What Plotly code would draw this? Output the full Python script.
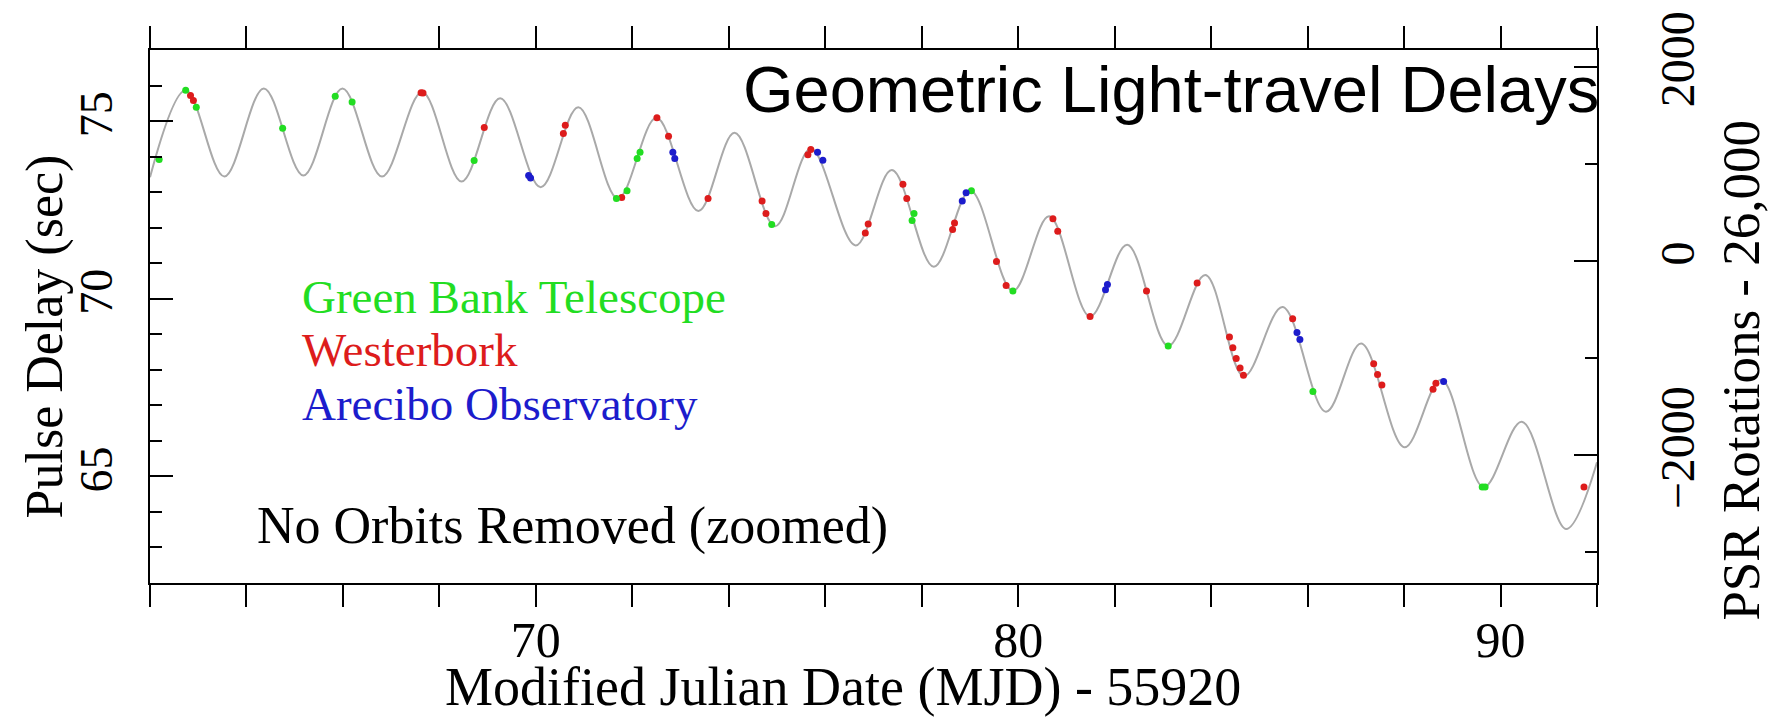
import plotly.graph_objects as go

# ---------------- data ----------------
# Timing-model curve: turning points of the light-travel delay (MJD - 55920, sec)
curve_mjd = [62.00, 62.74, 63.54, 64.36, 65.18, 65.99, 66.81, 67.64, 68.46, 69.26,
             70.10, 70.88, 71.70, 72.50, 73.37, 74.12, 74.96, 75.70, 76.63, 77.38,
             78.25, 79.01, 79.89, 80.64, 81.49, 82.26, 83.11, 83.88, 84.68, 85.48,
             86.38, 87.11, 88.01, 88.77, 89.65, 90.44, 91.36, 92.00]
curve_delay = [73.42, 75.87, 73.44, 75.92, 73.47, 75.92, 73.44, 75.82, 73.30, 75.64,
               73.14, 75.39, 72.82, 75.09, 72.47, 74.67, 72.04, 74.22, 71.50, 73.62,
               70.90, 73.04, 70.22, 72.32, 69.50, 71.52, 68.67, 70.67, 67.82, 69.77,
               66.82, 68.74, 65.82, 67.72, 64.70, 66.54, 63.52, 65.40]

# Green Bank Telescope TOAs
gbt_mjd = [62.19, 62.74, 62.96, 64.75, 65.84, 66.19, 68.72, 71.67, 71.89, 72.10,
           72.16, 74.89, 77.80, 77.84, 79.03, 79.89, 83.11, 86.11, 89.62, 89.68]
gbt_delay = [73.92, 75.87, 75.39, 74.80, 75.70, 75.54, 73.89, 72.82, 73.04, 73.95,
             74.12, 72.09, 72.20, 72.40, 73.04, 70.22, 68.67, 67.39, 64.70, 64.70]

# Westerbork TOAs
wsrt_mjd = [62.84, 62.90, 67.62, 67.66, 68.93, 70.57, 70.61, 71.78, 72.51, 72.75,
            73.57, 74.69, 74.77, 75.64, 75.70, 76.83, 76.89, 77.61, 77.69, 78.64,
            78.68, 79.55, 79.75, 80.72, 80.82, 81.49, 82.66, 83.71, 84.38, 84.45,
            84.52, 84.60, 84.67, 85.69, 87.37, 87.45, 87.54, 88.60, 88.66, 91.73]
wsrt_delay = [75.72, 75.58, 75.80, 75.79, 74.82, 74.65, 74.88, 72.85, 75.09, 74.57,
              72.82, 72.75, 72.40, 74.05, 74.20, 71.85, 72.10, 73.22, 72.82, 71.95,
              72.13, 71.05, 70.37, 72.25, 71.90, 69.50, 70.22, 70.44, 68.92, 68.62,
              68.32, 68.05, 67.85, 69.44, 68.17, 67.87, 67.57, 67.45, 67.62, 64.70]

# Arecibo Observatory TOAs
ao_mjd = [69.85, 69.89, 72.84, 72.88, 75.84, 75.95, 78.84, 78.92, 81.81, 81.85,
          85.78, 85.84, 88.82]
ao_delay = [73.47, 73.40, 74.12, 73.95, 74.12, 73.90, 72.75, 72.98, 70.25, 70.40,
            69.05, 68.85, 67.67]

x_tick_vals = [70, 80, 90]
delay_tick_vals = [65, 70, 75]
rot_tick_vals = [-2000, 0, 2000]

# ---------------- axis scales ----------------
X_RANGE = [62, 92]
DELAY_RANGE = [62, 77]
ROT_PER_SEC = 365.95        # pulsar rotations per second of delay
ZERO_ROT_DELAY = 71.07      # delay where the rotation axis reads 0
ROT_RANGE = [(d - ZERO_ROT_DELAY) * ROT_PER_SEC for d in DELAY_RANGE]

GREEN = "#22dd22"
RED = "#dd1c1c"
BLUE = "#1c1ccc"
SERIF = "Liberation Serif, Times New Roman, serif"
SANS = "Liberation Sans, Arial, sans-serif"

fig = go.Figure()

fig.add_trace(go.Scatter(
    x=curve_mjd, y=curve_delay, mode="lines",
    line=dict(color="#a9a9a9", width=2, shape="spline", smoothing=1.0),
    hoverinfo="skip", showlegend=False))

# same curve expressed in rotations, drawn invisibly to bind the right axis
fig.add_trace(go.Scatter(
    x=curve_mjd, y=[(d - ZERO_ROT_DELAY) * ROT_PER_SEC for d in curve_delay],
    yaxis="y2", mode="lines", opacity=0, line=dict(width=1),
    hoverinfo="skip", showlegend=False))

for xs, ys, col in [(wsrt_mjd, wsrt_delay, RED), (gbt_mjd, gbt_delay, GREEN),
                    (ao_mjd, ao_delay, BLUE)]:
    fig.add_trace(go.Scatter(
        x=xs, y=ys, mode="markers",
        marker=dict(color=col, size=7, line=dict(width=0)),
        showlegend=False))

L, R, T, B = 150, 178, 36, 141
W, H = 1775, 724
pw, ph = W - L - R, H - T - B


def px(x):
    return (x - L) / pw


def py(y):
    return (H - B - y) / ph


axis_common = dict(showline=True, linecolor="black", linewidth=2,
                   showgrid=False, zeroline=False, tickcolor="black",
                   tickwidth=2)

fig.update_layout(
    width=W, height=H,
    margin=dict(l=L, r=R, t=T, b=B),
    paper_bgcolor="white", plot_bgcolor="white",
    xaxis=dict(range=X_RANGE, tickmode="array", tickvals=x_tick_vals,
               ticks="outside", ticklen=22, mirror="allticks",
               ticklabelstandoff=-10,
               tickfont=dict(family=SERIF, size=50, color="black"),
               minor=dict(tick0=62, dtick=2, ticks="outside", ticklen=11,
                          tickwidth=2, tickcolor="black", showgrid=False),
               **axis_common),
    yaxis=dict(range=DELAY_RANGE, tickmode="array", tickvals=delay_tick_vals,
               ticks="inside", ticklen=23, tickangle=-90,
               ticklabelstandoff=18,
               tickfont=dict(family=SERIF, size=46, color="black"),
               minor=dict(tick0=62, dtick=1, ticks="inside", ticklen=12,
                          tickwidth=2, tickcolor="black", showgrid=False),
               **axis_common),
    yaxis2=dict(range=ROT_RANGE, overlaying="y", side="right",
                tickmode="array", tickvals=rot_tick_vals,
                ticks="inside", ticklen=23, tickangle=-90,
                ticklabelstandoff=37, ticklabeloverflow="allow",
                tickfont=dict(family=SERIF, size=48, color="black"),
                minor=dict(tick0=0, dtick=1000, ticks="inside", ticklen=12,
                           tickwidth=2, tickcolor="black", showgrid=False),
                **axis_common),
)

ann = []
ann.append(dict(text="Geometric Light-travel Delays", x=px(741), y=py(77),
                xanchor="left", yanchor="middle",
                font=dict(family=SANS, size=65, color="black")))
for txt, col, yc in [("Green Bank Telescope", GREEN, 289),
                     ("Westerbork", RED, 344),
                     ("Arecibo Observatory", BLUE, 399)]:
    ann.append(dict(text=txt, x=px(300), y=py(yc), xanchor="left",
                    yanchor="middle", font=dict(family=SERIF, size=47, color=col)))
ann.append(dict(text="No Orbits Removed (zoomed)", x=px(255), y=py(525),
                xanchor="left", yanchor="middle",
                font=dict(family=SERIF, size=52, color="black")))
ann.append(dict(text="Modified Julian Date (MJD) - 55920", x=px(843), y=py(690),
                xanchor="center", yanchor="middle",
                font=dict(family=SERIF, size=54, color="black")))
ann.append(dict(text="Pulse Delay (sec)", x=px(45), y=py(330), textangle=-90,
                xanchor="center", yanchor="middle",
                font=dict(family=SERIF, size=52, color="black")))
ann.append(dict(text="PSR Rotations - 26,000", x=px(1741), y=py(364),
                textangle=-90, xanchor="center", yanchor="middle",
                font=dict(family=SERIF, size=53, color="black")))
for a in ann:
    a.update(xref="paper", yref="paper", showarrow=False)
fig.update_layout(annotations=ann)

fig.write_html("out.html")
